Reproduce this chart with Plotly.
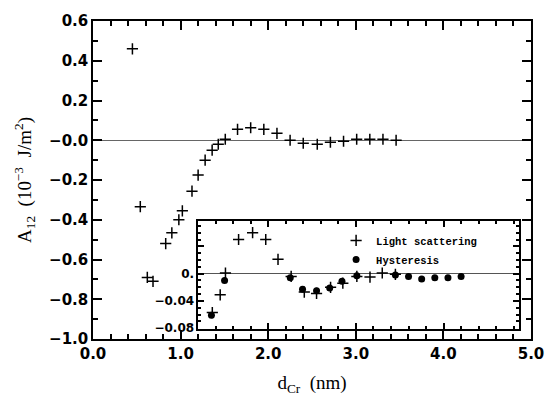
import plotly.graph_objects as go

# Main panel data (A12 in 10^-3 J/m^2 vs d_Cr in nm)
main_x = [0.45, 0.54, 0.62, 0.685, 0.83, 0.90, 0.98, 1.02, 1.13, 1.20, 1.28, 1.36, 1.43, 1.51,
          1.65, 1.80, 1.95, 2.10, 2.25, 2.40, 2.56, 2.71, 2.86, 3.01, 3.16, 3.31, 3.46]
main_y = [0.46, -0.334, -0.69, -0.71, -0.52, -0.466, -0.40, -0.355, -0.256, -0.175, -0.10, -0.05,
          -0.02, 0.005, 0.055, 0.063, 0.055, 0.035, 0.0, -0.015, -0.02, -0.01, -0.005, 0.005,
          0.005, 0.005, 0.0]

# Inset data
ls_x = [1.36, 1.45, 1.51, 1.66, 1.82, 1.97, 2.11, 2.26, 2.41, 2.55, 2.71, 2.85, 3.01, 3.16, 3.30, 3.45]
ls_y = [-0.057, -0.031, 0.001, 0.050, 0.060, 0.050, 0.021, -0.004, -0.027, -0.029, -0.020,
        -0.014, -0.004, -0.005, 0.001, -0.001]
hy_x = [1.35, 1.50, 2.25, 2.39, 2.55, 2.70, 2.84, 3.01, 3.45, 3.60, 3.75, 3.90, 4.05, 4.20]
hy_y = [-0.061, -0.010, -0.006, -0.023, -0.025, -0.021, -0.011, -0.003, -0.002, -0.004,
        -0.008, -0.006, -0.006, -0.004]

tickfont = dict(family="DejaVu Sans", size=15, color="black", weight=700)
serif = "Liberation Serif"
cross = dict(symbol="cross-thin", size=8, color="black", line=dict(color="black", width=1.5))

fig = go.Figure()
fig.add_trace(go.Scatter(x=main_x, y=main_y, mode="markers", showlegend=False, marker=cross))
fig.add_trace(go.Scatter(x=ls_x, y=ls_y, mode="markers", name="Light scattering",
                         xaxis="x2", yaxis="y2", marker=cross))
fig.add_trace(go.Scatter(x=hy_x, y=hy_y, mode="markers", name="Hysteresis",
                         xaxis="x2", yaxis="y2",
                         marker=dict(symbol="circle", size=7, color="black")))

fig.update_layout(
    width=556, height=402,
    margin=dict(l=93, r=18, t=15, b=61),
    paper_bgcolor="white", plot_bgcolor="white",
    xaxis=dict(range=[0, 5], tickformat=".1f",
               ticks="inside", ticklen=9, tickwidth=2, tickcolor="black",
               showline=True, linecolor="black", linewidth=1.5, mirror="ticks", showgrid=False,
               minor=dict(dtick=0.2, ticks="inside", ticklen=5, tickwidth=1.5, tickcolor="black"),
               tickfont=tickfont, zeroline=False,
               title=dict(text="d<sub>Cr</sub>  (nm)", font=dict(family=serif, size=19, color="black"),
                          standoff=14)),
    yaxis=dict(range=[-1.0, 0.6], tickformat=".1f", labelalias={"0.0": "\u22120.0"},
               ticks="inside", ticklen=9, tickwidth=2, tickcolor="black",
               showline=True, linecolor="black", linewidth=1.5, mirror="ticks", showgrid=False,
               minor=dict(dtick=0.1, ticks="inside", ticklen=5, tickwidth=1.5, tickcolor="black"),
               tickfont=tickfont,
               zeroline=True, zerolinecolor="#666666", zerolinewidth=1,
               title=dict(text="A<sub>12</sub>  (10<sup>\u22123</sup>  J/m<sup>2</sup>)",
                          font=dict(family=serif, size=19, color="black"), standoff=12)),
    xaxis2=dict(domain=[0.2404, 0.973], anchor="y2", range=[1.2, 4.863],
                showticklabels=False,
                ticks="inside", ticklen=6, tickwidth=1.5, tickcolor="black",
                showline=True, linecolor="black", linewidth=1.5, mirror="ticks", showgrid=False,
                minor=dict(dtick=0.2, ticks="inside", ticklen=3, tickcolor="black"),
                zeroline=False),
    yaxis2=dict(domain=[0.0307, 0.371], anchor="x2", range=[-0.0814, 0.0771],
                dtick=0.04, tick0=0, tickformat=".2f",
                labelalias={"0.00": "0.", "0.04": " "},
                ticks="inside", ticklen=6, tickwidth=1.5, tickcolor="black",
                showline=True, linecolor="black", linewidth=1.5, mirror="ticks", showgrid=False,
                minor=dict(dtick=0.01, ticks="inside", ticklen=3, tickcolor="black"),
                tickfont=dict(family="DejaVu Sans", size=12, color="black", weight=700),
                zeroline=True, zerolinecolor="#555555", zerolinewidth=1),
    legend=dict(x=0.555, y=0.28, xanchor="left", yanchor="middle", bgcolor="rgba(0,0,0,0)",
                font=dict(family="Liberation Mono", size=10.5, color="black", weight=700),
                itemwidth=30, tracegroupgap=0),
)

fig.write_html("out.html", config={"displayModeBar": False},
               post_script="document.body.style.margin='0';")
